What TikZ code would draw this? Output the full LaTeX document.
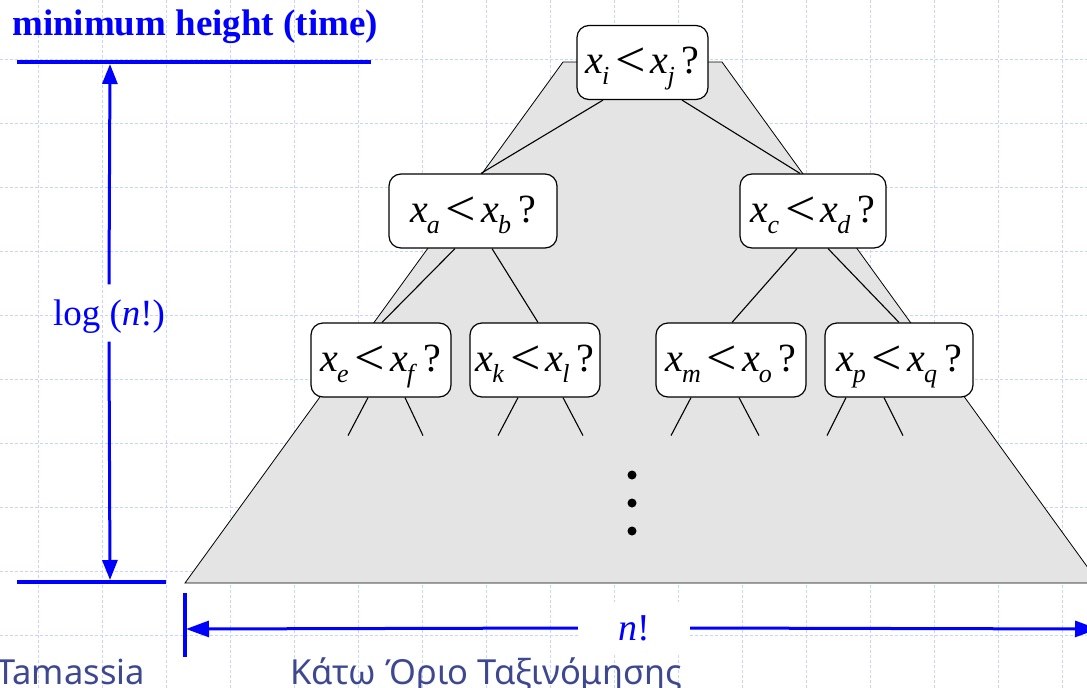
\documentclass[tikz,border=0pt]{standalone}
\usepackage{fontspec}
\setmainfont{Liberation Serif}
\newfontfamily\footfont{Noto Sans}
\usetikzlibrary{arrows.meta}

\definecolor{gridblue}{RGB}{200,214,246}
\definecolor{treegray}{RGB}{228,228,228}
\definecolor{footblue}{RGB}{62,72,145}
\definecolor{dimblue}{RGB}{0,0,255}

% x with an italic subscript, and a comparison "x_a < x_b ?"
\newcommand\xsub[1]{\textit{x}\kern-1pt\raisebox{-11pt}{\fontsize{26}{26}\selectfont\textit{#1}}}
\newcommand\lessrel{\raisebox{-3pt}{\scalebox{1.35}[1.25]{<}}}
\newcommand\cmpq[2]{\xsub{#1}\hspace{6pt}\lessrel\hspace{5pt}\xsub{#2}\hspace{7pt}?}

\begin{document}
\begin{tikzpicture}[x=1pt,y=-1pt,
  gridline/.style={draw=gridblue,line width=0.8pt,dash pattern=on 3pt off 2pt},
  treeedge/.style={draw=black,line width=1.1pt},
  treebox/.style={draw=black,fill=white,rounded corners=12pt,line width=1.2pt,
    inner sep=0pt,minimum height=74pt,text height=22pt,text depth=0pt,
    font=\fontsize{40}{40}\selectfont},
  dimline/.style={draw=dimblue,line width=4pt},
  dimarrow/.style={draw=dimblue,line width=3pt,-{Triangle[length=20pt,width=15pt]}},
  dimlabel/.style={text=dimblue,inner sep=0pt,text height=24pt,text depth=0pt},
  dotnode/.style={circle,fill=black,inner sep=0pt,minimum size=9pt},
  foot/.style={text=footblue,inner sep=0pt,font=\footfont\fontsize{34.5}{34.5}\selectfont}]

\useasboundingbox (0,0) rectangle (1087,688);
\clip (0,0) rectangle (1087,688);

% background grid
\foreach \gx in {38,102,...,1062} \draw[gridline] (\gx,0) -- (\gx,688);
\foreach \gy in {59,123,...,699} \draw[gridline] (0,\gy) -- (1087,\gy);

% shaded outline of the whole decision tree
\draw[fill=treegray,line width=0.8pt] (563,62) -- (722,62) -- (1099,583) -- (185,583) -- cycle;

% comparison nodes
\node[treebox,minimum width=131pt] (root) at (642.5,62.5) {\cmpq{i}{j}};
\node[treebox,minimum width=168pt] (a) at (473,211) {\cmpq{a}{b}};
\node[treebox,minimum width=146pt] (c) at (813,211) {\cmpq{c}{d}};
\node[treebox,minimum width=140pt] (e) at (381,360) {\cmpq{e}{f}};
\node[treebox,minimum width=130pt] (k) at (535,360) {\cmpq{k}{l}};
\node[treebox,minimum width=150pt] (m) at (731,360) {\cmpq{m}{o}};
\node[treebox,minimum width=148pt] (p) at (899,360) {\cmpq{p}{q}};

% tree edges
\draw[treeedge] ([xshift=-39.5pt]root.south) -- ([xshift=8pt]a.north);
\draw[treeedge] ([xshift=39.5pt]root.south) -- ([xshift=-13pt]c.north);
\draw[treeedge] ([xshift=-18pt]a.south) -- ([xshift=1pt]e.north);
\draw[treeedge] ([xshift=19pt]a.south) -- ([xshift=3pt]k.north);
\draw[treeedge] ([xshift=-16pt]c.south) -- ([xshift=1pt]m.north);
\draw[treeedge] ([xshift=15pt]c.south) -- ([xshift=0pt]p.north);

% stubs below the third level
\draw[treeedge] ([xshift=-13pt]e.south) -- ++(-20,38);
\draw[treeedge] ([xshift=24pt]e.south) -- ++(18,38);
\draw[treeedge] ([xshift=-17pt]k.south) -- ++(-20,38);
\draw[treeedge] ([xshift=28pt]k.south) -- ++(20,38);
\draw[treeedge] ([xshift=-40pt]m.south) -- ++(-20,38);
\draw[treeedge] ([xshift=8pt]m.south) -- ++(20,38);
\draw[treeedge] ([xshift=-53pt]p.south) -- ++(-19,38);
\draw[treeedge] ([xshift=-15pt]p.south) -- ++(19,38);

% vertical ellipsis
\node[dotnode] (dot1) at (632,475) {};
\node[dotnode] (dot2) at (632,503) {};
\node[dotnode] (dot3) at (632,531) {};

% height dimension
\node[anchor=base west,inner sep=0pt,text=dimblue,
  font=\bfseries\fontsize{37}{37}\selectfont] (title) at (12,35) {minimum height (time)};
\coordinate (topL) at (17,62);
\coordinate (topR) at (371,62);
\coordinate (botL) at (17,582);
\coordinate (botR) at (166,582);
\coordinate (htop) at (110,64);
\coordinate (hbot) at (110,580);
\draw[dimline] (topL) -- (topR);
\draw[dimline] (botL) -- (botR);
\node[dimlabel,minimum height=57pt,font=\fontsize{37}{37}\selectfont] (logn) at (109,313) {log (\textit{n}!)};
\draw[dimarrow] (logn.north) -- (htop);
\draw[dimarrow] (logn.south) -- (hbot);

% width dimension
\coordinate (barT) at (185,593);
\coordinate (barB) at (185,657);
\coordinate (wleft) at (186,629);
\coordinate (wright) at (1098,629);
\draw[draw=dimblue,line width=3.5pt] (barT) -- (barB);
\node[dimlabel,fill=white,minimum width=112pt,minimum height=52pt,
  font=\fontsize{38}{38}\selectfont] (nfact) at (634,628) {\textit{n}!};
\draw[dimarrow,-{Triangle[length=23pt,width=16pt]}] (nfact.west) -- (wleft);
\draw[dimarrow,-{Triangle[length=23pt,width=16pt]}] (nfact.east) -- (wright);

% footer
\node[foot,anchor=base east] (auth) at (145,684) {Tamassia};
\node[foot,anchor=base west] (subj) at (290,684) {Κάτω Όριο Ταξινόμησης};
\end{tikzpicture}
\end{document}
